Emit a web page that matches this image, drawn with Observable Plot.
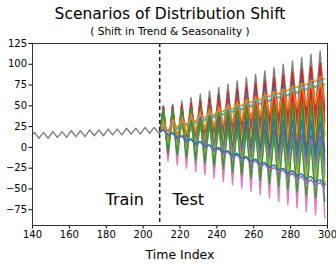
<!DOCTYPE html>
<html><head><meta charset="utf-8">
<script src="https://cdn.jsdelivr.net/npm/d3@7"></script>
<script src="https://cdn.jsdelivr.net/npm/@observablehq/plot@0.6"></script>
<style>body{margin:0;background:#fff;font-family:"DejaVu Sans",sans-serif}</style>
</head><body><div id="chart"></div>
<script>
// Train series: value at start, peaks (t = 141 + 5k), troughs (t = 143.5 + 5k)
const trainStart = 15;
const trainPeaks = [18,18,19,19,20,20,21,21,22,22,23,23,24,24];
const trainTroughs = [11,11,12,12,13,13,14,14,15,15,16,16,17,17];
const testStart = 18; // value at the split, t = 209
// Test series: peaks at t = 211 + 5k, troughs at t = 213.5 + 5k
const grayPeaks = [48,52,56,60,64,68,72,76,80,84,88,92,96,100,104,108,112,116];
const grayTroughs = [-3,0,3,6,9,12,15,18,21,24,27,30,33,36,39,42,45,48];
const pink2Peaks = [50,49,48,47,46,45,44,43,42,41,40,39,38,37,36,35,34,33];
const pink2Troughs = [-12,-14,-16,-18,-20,-22,-24,-26,-28,-30,-32,-34,-36,-38,-40,-42,-44,-47];
const red3Peaks = [41,45,49,52,56,59,63,66,70,73,77,80,84,88,91,95,98,102];
const red3Troughs = [2,5,7,10,12,14,17,19,22,24,27,29,32,34,36,39,41,44];
const redPeaks = [43,47,50,53,56,59,63,66,69,72,75,79,82,85,88,91,95,98];
const redTroughs = [0,1,3,5,7,9,10,12,14,16,18,19,21,23,25,27,28,30];
const blue3Peaks = [46,48,50,53,55,57,60,62,64,67,69,71,74,76,78,80,83,85];
const blue3Troughs = [-4,-3,-2,0,1,2,3,4,6,7,8,9,10,12,13,14,15,16];
const brownPeaks = [36,38,41,43,45,47,50,52,54,57,59,61,64,66,68,70,73,75];
const brownTroughs = [7,8,10,12,13,15,17,19,20,22,24,25,27,29,30,32,34,36];
const green3Peaks = [50,50,50,50,50,50,50,50,51,51,51,51,51,51,51,51,51,51];
const green3Troughs = [-11,-12,-13,-14,-15,-16,-17,-18,-19,-20,-21,-22,-24,-25,-26,-27,-28,-29];
const orange2Peaks = [46,47,49,51,53,55,57,58,60,62,64,66,67,69,71,73,75,76];
const orange2Troughs = [-4,-3,-1,0,1,2,3,4,6,7,8,9,10,12,13,14,15,16];
const pinkPeaks = [49,48,46,44,43,41,39,38,36,34,33,31,30,28,26,25,23,21];
const pinkTroughs = [-17,-21,-25,-29,-33,-37,-41,-45,-49,-53,-57,-61,-65,-69,-73,-77,-81,-85];
const olive2Peaks = [39,40,41,43,44,46,47,48,50,51,53,54,55,57,58,60,61,62];
const olive2Troughs = [3,3,4,4,5,6,6,7,7,8,9,9,10,10,11,12,12,13];
const red2Peaks = [49,50,51,53,54,56,57,58,60,61,63,64,65,67,68,70,71,72];
const red2Troughs = [-8,-8,-8,-8,-7,-7,-7,-7,-7,-7,-7,-7,-7,-7,-6,-6,-6,-6];
const cyan2Peaks = [45,44,44,43,43,43,42,42,41,41,40,40,39,39,39,38,38,37];
const cyan2Troughs = [-6,-8,-9,-11,-13,-14,-16,-17,-19,-20,-22,-23,-25,-27,-28,-30,-31,-33];
const greenPeaks = [45,46,46,47,47,48,48,49,49,50,50,51,51,52,52,53,54,54];
const greenTroughs = [-5,-6,-7,-7,-8,-8,-9,-9,-10,-10,-11,-12,-12,-13,-13,-14,-14,-15];
const bluePeaks = [40,39,39,38,38,37,37,36,36,35,35,34,34,33,33,32,32,31];
const blueTroughs = [-1,-2,-3,-4,-5,-6,-7,-8,-9,-10,-11,-12,-13,-14,-15,-16,-17,-18];
const brown2Peaks = [39,38,36,35,33,32,30,29,27,25,24,22,21,19,18,16,15,13];
const brown2Troughs = [-2,-5,-7,-10,-12,-14,-17,-19,-22,-24,-27,-29,-32,-34,-36,-39,-41,-44];
const purplePeaks = [30,28,27,26,25,24,22,21,20,19,18,16,15,14,13,12,10,9];
const purpleTroughs = [8,7,5,3,1,-1,-2,-4,-6,-8,-10,-11,-13,-15,-17,-19,-20,-22];
const olivePeaks = [34,32,31,29,27,25,23,21,19,17,15,13,12,10,8,6,4,2];
const oliveTroughs = [3,0,-3,-5,-8,-10,-13,-16,-18,-21,-23,-26,-29,-31,-34,-36,-39,-42];
const green2Peaks = [41,39,37,34,32,30,27,25,23,20,18,16,14,11,9,7,4,2];
const green2Troughs = [-5,-9,-12,-16,-19,-23,-26,-30,-33,-37,-40,-44,-47,-51,-54,-58,-61,-65];
const orange3Peaks = [31,34,37,40,43,46,49,52,55,58,61,64,67,70,73,76,79,82];
const orange3Troughs = [12,15,17,20,22,25,27,30,32,35,37,40,42,45,47,50,52,55];
const cyanPeaks = [25,29,32,35,39,42,45,48,52,55,58,62,65,68,72,75,78,81];
const cyanTroughs = [19,22,26,29,32,36,39,42,45,49,52,55,59,62,65,69,72,75];
const orangePeaks = [23,27,31,34,38,41,45,49,52,56,59,63,67,70,74,77,81,85];
const orangeTroughs = [21,25,28,32,36,39,43,46,50,54,57,61,64,68,72,75,79,82];
const purple2Peaks = [22,18,14,10,7,3,-1,-5,-9,-12,-16,-20,-24,-27,-31,-35,-39,-42];
const purple2Troughs = [14,10,6,2,-1,-5,-9,-13,-16,-20,-24,-28,-31,-35,-39,-43,-46,-50];
const blue2Peaks = [21,17,14,10,7,3,0,-4,-7,-11,-14,-18,-21,-25,-28,-32,-35,-39];
const blue2Troughs = [15,11,8,4,1,-3,-6,-10,-13,-17,-20,-24,-27,-31,-34,-38,-41,-45];

const seriesNames = ["gray","pink2","red3","red","blue3","brown","green3","orange2","pink","olive2","red2","cyan2","green","blue","brown2","purple","olive","green2","orange3","cyan","orange","purple2","blue2"];
const seriesPeaks = [grayPeaks,pink2Peaks,red3Peaks,redPeaks,blue3Peaks,brownPeaks,green3Peaks,orange2Peaks,pinkPeaks,olive2Peaks,red2Peaks,cyan2Peaks,greenPeaks,bluePeaks,brown2Peaks,purplePeaks,olivePeaks,green2Peaks,orange3Peaks,cyanPeaks,orangePeaks,purple2Peaks,blue2Peaks];
const seriesTroughs = [grayTroughs,pink2Troughs,red3Troughs,redTroughs,blue3Troughs,brownTroughs,green3Troughs,orange2Troughs,pinkTroughs,olive2Troughs,red2Troughs,cyan2Troughs,greenTroughs,blueTroughs,brown2Troughs,purpleTroughs,oliveTroughs,green2Troughs,orange3Troughs,cyanTroughs,orangeTroughs,purple2Troughs,blue2Troughs];
const seriesColors = ["#7f7f7f","#e377c2","#d62728","#d62728","#1f77b4","#8c564b","#2ca02c","#ff7f0e","#e377c2","#bcbd22","#d62728","#17becf","#2ca02c","#1f77b4","#8c564b","#9467bd","#bcbd22","#2ca02c","#ff7f0e","#17becf","#ff7f0e","#9467bd","#1f77b4"];
const splitT = 209;
const xTicks = [140,160,180,200,220,240,260,280,300];
const yTicks = [-75,-50,-25,0,25,50,75,100,125];

// build rows
const train = [{t:140, v:trainStart}];
trainPeaks.forEach((p,k)=>{ train.push({t:141+5*k, v:p}); train.push({t:143.5+5*k, v:trainTroughs[k]}); });
train.push({t:splitT, v:testStart});
const test = [];
seriesNames.forEach((name,i)=>{
  test.push({s:name, t:splitT, v:testStart});
  seriesPeaks[i].forEach((p,k)=>{
    test.push({s:name, t:211+5*k, v:p});
    test.push({s:name, t:213.5+5*k, v:seriesTroughs[i][k]});
  });
});

const plot = Plot.plot({
  width: 336, height: 264,
  marginTop: 43, marginBottom: 39, marginLeft: 32, marginRight: 9,
  style: {fontFamily: "DejaVu Sans, sans-serif", fontSize: "10px", color: "#000", background: "#fff"},
  x: {domain: [140, 300], ticks: xTicks, tickSize: 3.5, tickPadding: 2, label: null},
  y: {domain: [-94, 125], ticks: yTicks, tickSize: 3.5, tickPadding: 2, label: null},
  color: {domain: seriesNames, range: seriesColors},
  marks: [
    Plot.line(test, {x: "t", y: "v", z: "s", stroke: d => d.s, strokeWidth: 1.4, clip: true}),
    Plot.line(train, {x: "t", y: "v", stroke: "#7f7f7f", strokeWidth: 1.4}),
    Plot.ruleX([splitT], {stroke: "#222", strokeWidth: 1.5, strokeDasharray: "4,3"}),
    Plot.text(["Train"], {x: 190, y: -63, text: d => d, fontSize: 16, fill: "#000"}),
    Plot.text(["Test"], {x: 224.5, y: -63, text: d => d, fontSize: 16, fill: "#000"}),
    Plot.frame({stroke: "#333", strokeWidth: 1}),
    Plot.text(["Scenarios of Distribution Shift"], {frameAnchor: "top", lineAnchor: "middle", dx: -10, dy: -29, text: d => d, fontSize: 15.5, fill: "#000"}),
    Plot.text(["( Shift in Trend & Seasonality )"], {frameAnchor: "top", lineAnchor: "middle", dx: -10, dy: -12, text: d => d, fontSize: 10.5, fill: "#000"}),
    Plot.text(["Time Index"], {frameAnchor: "bottom", lineAnchor: "middle", dy: 29, text: d => d, fontSize: 12.5, fill: "#000"})
  ]
});
document.getElementById("chart").appendChild(plot);
</script></body></html>
